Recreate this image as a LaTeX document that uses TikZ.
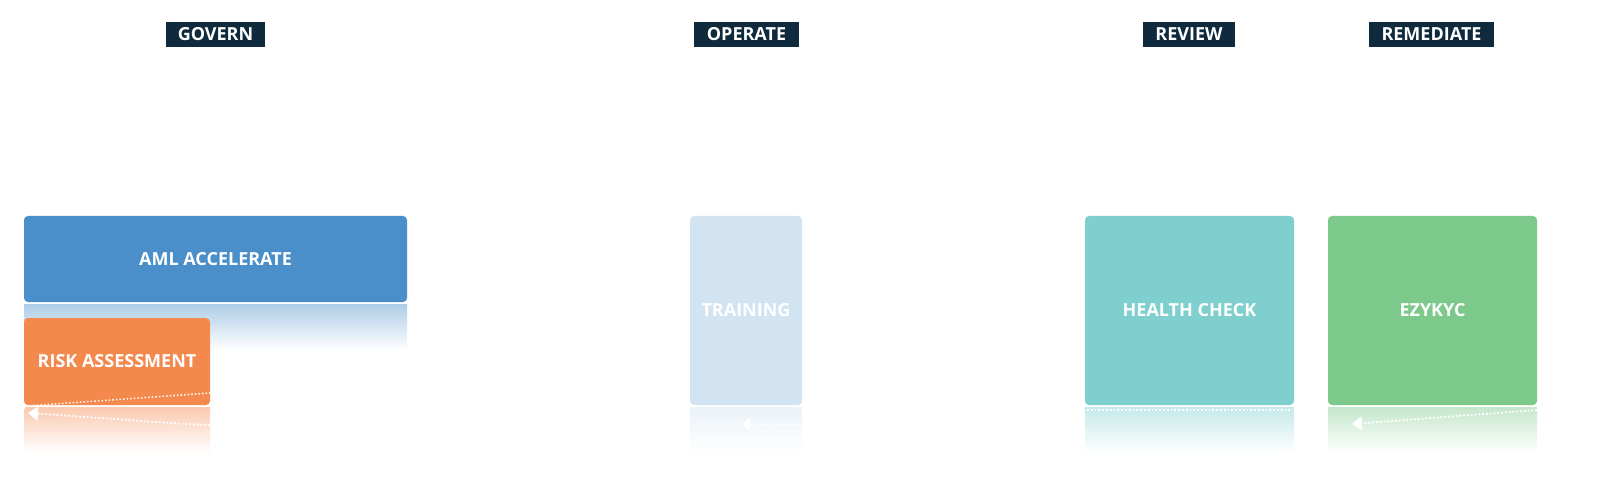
\documentclass[tikz,border=0pt]{standalone}
\usepackage{fontspec}
\setmainfont{Open Sans}
\usetikzlibrary{arrows.meta}
\definecolor{cblue}{HTML}{4A8FC9}
\definecolor{corange}{HTML}{F4894E}
\definecolor{clight}{HTML}{D2E4F1}
\definecolor{cteal}{HTML}{7FCFCF}
\definecolor{cgreen}{HTML}{7DC98C}
\definecolor{cnavy}{HTML}{0F2A3C}
\tikzset{
  tile/.style={rounded corners=2pt,inner sep=0pt,text=white,font=\bfseries\fontsize{9}{10}\selectfont},
  phase/.style={fill=cnavy,text=white,inner sep=0pt,font=\bfseries\fontsize{9}{10}\selectfont},
  trail/.style={white,densely dotted,line width=0.9pt},
}
\newcommand{\tilebox}[6]{%
  \fill[#6,rounded corners=2pt] (#1,#2) rectangle (#3,#4);
  \shade[top color=#6!45,bottom color=white,draw=none] (#1,#4+2) rectangle (#3,#4+48);
  \node[tile] (#5) at ({(#1+#3)/2},{(#2+#4)/2}) {};}
\begin{document}
\begin{tikzpicture}[x=0.5pt,y=-0.5pt]
\useasboundingbox (0,0) rectangle (1600,486);
\fill[white] (0,0) rectangle (1600,486);
% phase labels
\node[phase,minimum width=49.5pt,minimum height=12.5pt] (govern) at (215.5,34.5) {GOVERN};
\node[phase,minimum width=52.5pt,minimum height=12.5pt] (operate) at (746.5,34.5) {OPERATE};
\node[phase,minimum width=46pt,minimum height=12.5pt] (review) at (1189,34.5) {REVIEW};
\node[phase,minimum width=62.5pt,minimum height=12.5pt] (remediate) at (1431.5,34.5) {REMEDIATE};
% tiles
\tilebox{24}{216}{407}{302}{aml}{cblue}
\node[tile] at (aml) {AML ACCELERATE};
\tilebox{24}{318}{210}{405}{risk}{corange}
\node[tile] at (risk) {RISK ASSESSMENT};
\tilebox{690}{216}{802}{405}{train}{clight}
\node[tile] at (train) {TRAINING};
\tilebox{1085}{216}{1294}{405}{health}{cteal}
\node[tile] at (health) {HEALTH CHECK};
\tilebox{1328}{216}{1537}{405}{ezy}{cgreen}
\node[tile] at (ezy) {EZYKYC};
% dotted trails
\coordinate (r1) at (210,425); \coordinate (r2) at (26,410);
\draw[trail] (24,407) -- (r2);
\draw[trail,-{Triangle[width=7pt,length=5pt]}] (r1) -- (185,424) -- (28,413);
\draw[white!90!corange,densely dotted,line width=0.8pt] (26,406) -- (210,393);
\coordinate (t1) at (802,425);
\draw[trail,-{Triangle[width=6pt,length=4pt]}] (t1) -- (742,424);
\draw[trail] (1087,410) -- (1292,410);
\coordinate (e1) at (1537,410);
\draw[trail] (e1) -- (1365,423);
\draw[trail,-{Triangle[width=7pt,length=5pt]}] (1370,423) -- (1352,424);
\end{tikzpicture}
\end{document}
